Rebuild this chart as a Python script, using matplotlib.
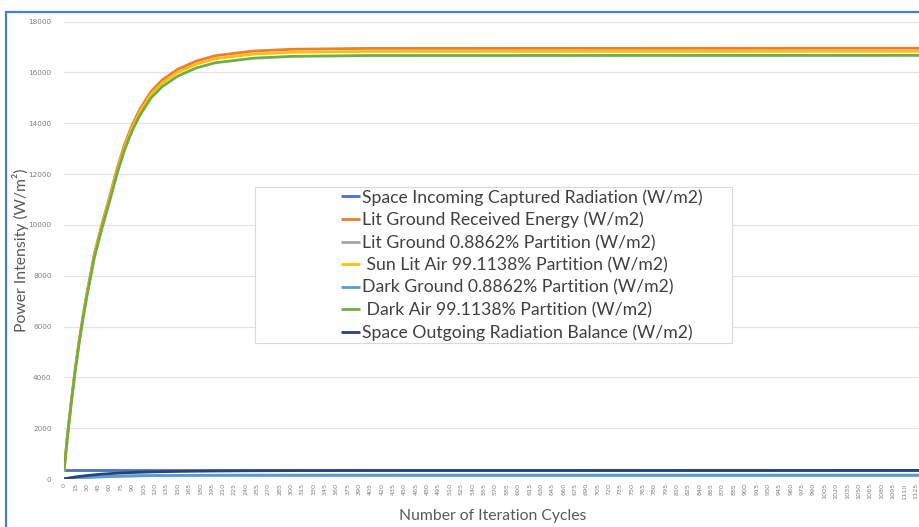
import matplotlib
matplotlib.use("Agg")
import matplotlib.pyplot as plt
from matplotlib.patches import Rectangle

# ---- data ----
cycles = [0, 5, 10, 15, 20, 25, 30, 40, 50, 60, 70, 80, 90, 100, 115, 130, 150,
          175, 200, 250, 300, 400, 1130]

space_incoming = [340] * len(cycles)
lit_ground_received = [300, 1830, 3150, 4370, 5440, 6400, 7270, 8850, 10020, 11080,
                       12200, 13170, 13930, 14540, 15250, 15710, 16120, 16450, 16660,
                       16840, 16910, 16945, 16950]
lit_ground_partition = [3, 16, 28, 39, 48, 57, 64, 78, 89, 98, 108, 117, 123, 129,
                        135, 139, 143, 146, 148, 149, 150, 150, 150]
sun_lit_air = [300, 1820, 3130, 4340, 5400, 6360, 7220, 8780, 9940, 11000, 12120,
               13070, 13830, 14440, 15140, 15600, 16000, 16330, 16540, 16720, 16790,
               16825, 16830]
dark_ground = [3, 16, 27, 38, 47, 56, 63, 77, 87, 97, 106, 115, 121, 127, 133, 137,
               140, 143, 145, 147, 147, 148, 148]
dark_air = [300, 1800, 3100, 4300, 5350, 6300, 7150, 8700, 9850, 10900, 12000, 12950,
            13700, 14300, 15000, 15450, 15850, 16180, 16380, 16560, 16630, 16665, 16670]
space_outgoing = [0, 30, 55, 80, 100, 118, 135, 165, 190, 210, 228, 243, 255, 265,
                  278, 288, 298, 308, 315, 325, 330, 335, 338]

series_labels = [
    "Space Incoming Captured Radiation (W/m2)",
    "Lit Ground Received Energy (W/m2)",
    "Lit Ground 0.8862% Partition (W/m2)",
    " Sun Lit Air 99.1138% Partition (W/m2)",
    "Dark Ground 0.8862% Partition (W/m2)",
    " Dark Air 99.1138% Partition (W/m2)",
    "Space Outgoing Radiation Balance (W/m2)",
]
series_colors = ["#4472C4", "#ED7D31", "#A5A5A5", "#FFC000", "#5B9BD5", "#70AD47", "#264478"]
series_values = [space_incoming, lit_ground_received, lit_ground_partition, sun_lit_air,
                 dark_ground, dark_air, space_outgoing]

x_ticks = list(range(0, 1126, 15))
y_ticks = list(range(0, 18001, 2000))

# ---- figure ----
W, H = 919, 527
fig = plt.figure(figsize=(W / 100, H / 100), dpi=100)
fig.patch.set_facecolor("white")

# blue outer chart frame (cut at right / bottom)
fig.patches.append(Rectangle((6 / W, -0.05), 1.2, 1.05 - 11.5 / H,
                             transform=fig.transFigure, fill=False,
                             edgecolor="#4A7BCF", linewidth=1.6, zorder=0))

left, right = 64 / W, 1.0
bottom, top = 1 - 479 / H, 1 - 21.6 / H
ax = fig.add_axes([left, bottom, right - left, top - bottom])

for vals, col, lab in zip(series_values, series_colors, series_labels):
    ax.plot(cycles, vals, color=col, linewidth=2.0, label=lab, solid_capstyle="butt")

ax.set_xlim(0, (W - 64) / 0.757)
ax.set_ylim(0, 18000)
ax.set_yticks(y_ticks)
ax.set_yticklabels([str(v) for v in y_ticks], fontsize=5.2, color="#808080")
ax.set_xticks(x_ticks)
ax.set_xticklabels([str(v) for v in x_ticks], rotation=90, fontsize=4.6, color="#808080")
ax.tick_params(axis="x", length=0, pad=3)
ax.tick_params(axis="y", length=0, pad=9)
ax.grid(axis="y", color="#E3E3E3", linewidth=0.9)
ax.set_axisbelow(True)
for s in ["top", "right", "left", "bottom"]:
    ax.spines[s].set_visible(False)

ax.set_xlabel("Number of Iteration Cycles", fontsize=11.3, color="#595959", family="Lato")
ax.xaxis.set_label_coords((493 / W - left) / (right - left),
                          ((1 - 509 / H) - bottom) / (top - bottom))
ax.set_ylabel("Power Intensity (W/m²)", fontsize=11.3, color="#595959", family="Lato")
ax.yaxis.set_label_coords((29 / W - left) / (right - left), 0.5)

# legend box
fig.patches.append(Rectangle((255 / W, 1 - 343 / H), (732 - 255) / W, (343 - 187) / H,
                             transform=fig.transFigure, facecolor="white",
                             edgecolor="#D9D9D9", linewidth=0.8, zorder=5))
leg = fig.legend(loc="upper left", bbox_to_anchor=(341 / W, 1 - 189 / H),
                 frameon=False, prop={"family": "Lato", "size": 12.7},
                 handlelength=1.05, handletextpad=0.12, labelspacing=0.36,
                 borderpad=0, borderaxespad=0)
for t in leg.get_texts():
    t.set_color("#404040")
leg.set_zorder(6)

fig.savefig("out.png", dpi=100)
